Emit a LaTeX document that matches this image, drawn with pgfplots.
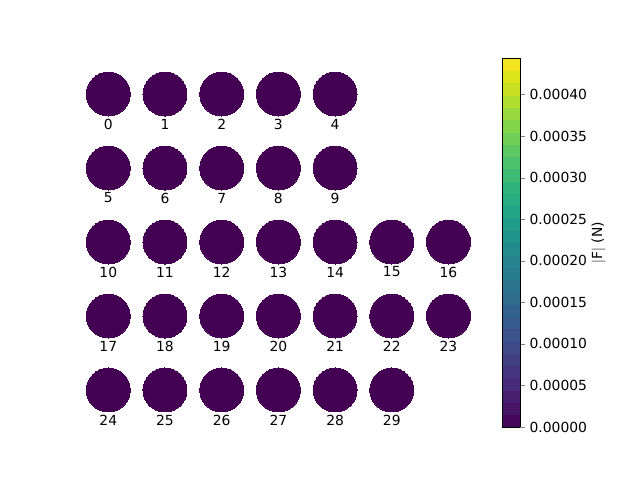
\documentclass[border=0pt]{standalone}
\usepackage{pgfplots}
\usepackage{pgfplotstable}
\pgfplotsset{compat=1.18}
\usepackage{fontspec}
\setmainfont{DejaVu Sans}
\definecolor{vmin}{RGB}{68,1,84}
\pgfplotstableread{
x y label
108.3 386 0
165.0 386 1
221.7 386 2
278.4 386 3
335.1 386 4
108.3 312 5
165.0 312 6
221.7 312 7
278.4 312 8
335.1 312 9
108.3 238 10
165.0 238 11
221.7 238 12
278.4 238 13
335.1 238 14
391.8 238 15
448.5 238 16
108.3 164 17
165.0 164 18
221.7 164 19
278.4 164 20
335.1 164 21
391.8 164 22
448.5 164 23
108.3 90 24
165.0 90 25
221.7 90 26
278.4 90 27
335.1 90 28
391.8 90 29
}\pts
\begin{document}
\begin{tikzpicture}
\useasboundingbox (0,0) rectangle (460.8pt,345.6pt);
\begin{axis}[
  at={(0,0)}, anchor=south west,
  width=460.8pt, height=345.6pt, scale only axis,
  xmin=0, xmax=640, ymin=0, ymax=480,
  hide axis, clip=false,
  colormap/viridis,
  point meta min=0, point meta max=0.000444,
  colorbar, colorbar sampled,
  colorbar style={
    at={(parent axis.south west)}, anchor=south west,
    xshift=352.8pt, yshift=38.16pt,
    width=12.96pt, height=265.68pt,
    scale only axis,
    samples=31,
    ytick={0,0.00005,0.0001,0.00015,0.0002,0.00025,0.0003,0.00035,0.0004},
    scaled y ticks=false,
    yticklabel={\pgfmathprintnumber[fixed,fixed zerofill,precision=5,assume math mode=true]{\tick}},
    yticklabel pos=right,
    ytick pos=right,
    tick align=outside,
    major tick length=3.5pt,
    ylabel={$|$F$|$ (N)},
    ylabel style={font=\fontsize{10}{12}\selectfont, yshift=3.6pt},
    yticklabel style={font=\fontsize{10}{12}\selectfont},
  },
]
\addplot[only marks, mark=*, mark size=15.84pt, color=vmin, mark options={fill=vmin, draw=vmin, line width=0pt}] table[x=x,y=y] {\pts};
\addplot[draw=none, mark=none, nodes near coords, point meta=explicit symbolic,
  every node near coord/.append style={anchor=center, font=\fontsize{10}{12}\selectfont, inner sep=0pt, text=black}]
  table[x=x, y expr=\thisrow{y}-30, meta=label] {\pts};
\end{axis}
\end{tikzpicture}
\end{document}
